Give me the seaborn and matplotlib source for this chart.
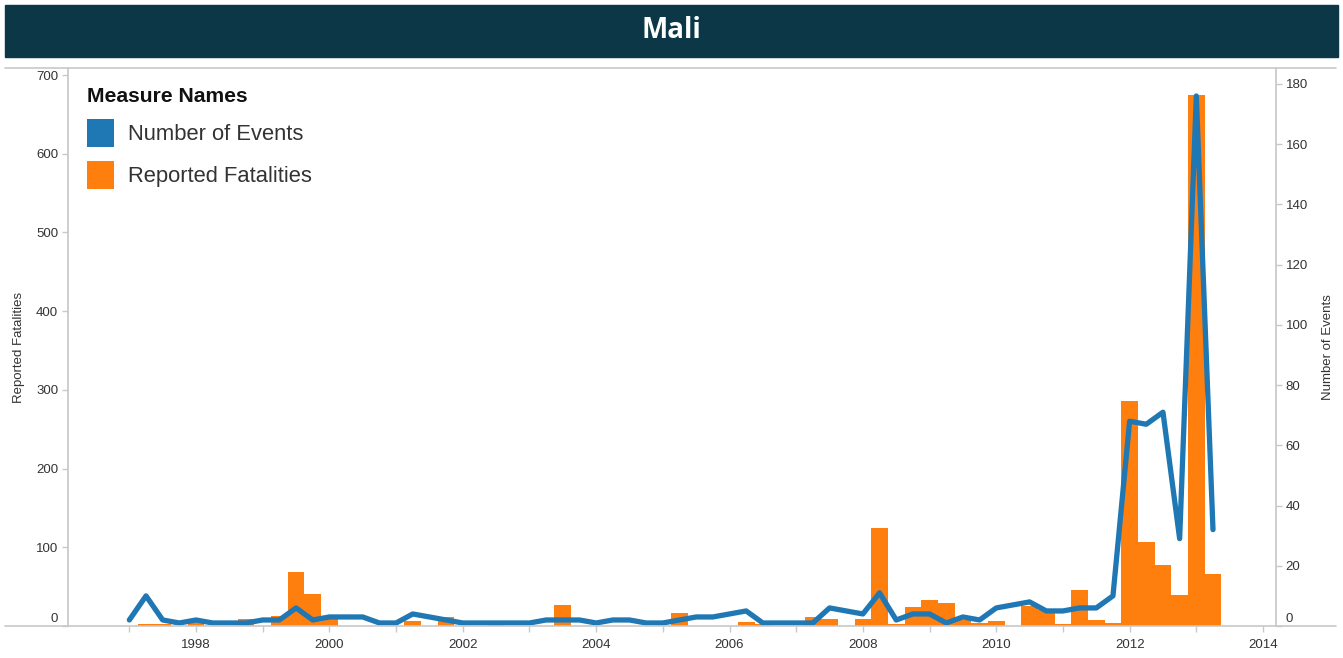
import matplotlib
matplotlib.use("Agg")
import matplotlib.pyplot as plt
import matplotlib.transforms as mtransforms
from matplotlib.lines import Line2D
from matplotlib.patches import Patch, Rectangle
import numpy as np
import pandas as pd
import seaborn as sns

# quarterly data, Q1 1997 .. Q2 2013
start_year = 1997
events = [
    2, 10, 2, 1,
    2, 1, 1, 1,
    2, 2, 6, 2,
    3, 3, 3, 1,
    1, 4, 3, 2,
    1, 1, 1, 1,
    1, 2, 2, 2,
    1, 2, 2, 1,
    1, 2, 3, 3,
    4, 5, 1, 1,
    1, 1, 6, 5,
    4, 11, 2, 4,
    4, 1, 3, 2,
    6, 7, 8, 5,
    5, 6, 6, 10,
    68, 67, 71, 29,
    176, 32,
]
fatalities = [
    0, 2, 2, 0,
    5, 0, 0, 9,
    0, 13, 68, 41,
    12, 0, 0, 0,
    0, 6, 0, 11,
    0, 0, 3, 0,
    0, 0, 27, 0,
    0, 0, 0, 0,
    0, 17, 0, 0,
    0, 5, 2, 0,
    0, 11, 9, 0,
    9, 125, 2, 24,
    33, 29, 7, 4,
    6, 0, 26, 20,
    2, 46, 8, 4,
    286, 107, 78, 39,
    675, 66,
]
year_ticks = [1998, 2000, 2002, 2004, 2006, 2008, 2010, 2012, 2014]
fat_ticks = [0, 100, 200, 300, 400, 500, 600, 700]
event_ticks = [0, 20, 40, 60, 80, 100, 120, 140, 160, 180]

df = pd.DataFrame({
    "quarter": start_year + np.arange(len(events)) * 0.25,
    "events": events,
    "fatalities": fatalities,
})

blue = "#1f77b4"
orange = "#ff7f0e"
grey = "#c8c8c8"
dark = "#333333"

sns.set_theme(style="white")
plt.rcParams["font.family"] = ["Liberation Sans", "DejaVu Sans"]

W, H = 1343, 658
fig = plt.figure(figsize=(W / 100, H / 100), dpi=100)
fig.patch.set_facecolor("white")

# axes box in pixel coords
left_px, right_px, top_px, bottom_px = 68, 1276, 68, 626
ax = fig.add_axes([left_px / W, 1 - bottom_px / H,
                   (right_px - left_px) / W, (bottom_px - top_px) / H])
ax2 = ax.twinx()

q = df["quarter"].values
sns.histplot(data=df, x="quarter", weights="fatalities", binwidth=0.25,
             binrange=(q[0] - 0.125, q[-1] + 0.125), ax=ax,
             color=orange, alpha=1, linewidth=0)
sns.lineplot(data=df, x="quarter", y="events", ax=ax2, color=blue,
             linewidth=3.8, solid_joinstyle="round", solid_capstyle="round")

ax.set_xlim(1996.08, 2014.195)
ax.set_ylim(0, 709)
ax2.set_ylim(0, 185.3)

ax.set_xticks(year_ticks)
ax.set_xticks(np.arange(1997, 2015, 2), minor=True)
ax.set_xticklabels([str(y) for y in year_ticks])
ax.set_yticks(fat_ticks)
ax2.set_yticks(event_ticks)

ax.set_xlabel("")
ax.set_ylabel("Reported Fatalities", fontsize=9.5, color=dark, labelpad=8)
ax2.set_ylabel("Number of Events", fontsize=9.5, color=dark, labelpad=10)

for a in (ax, ax2):
    for s in a.spines.values():
        s.set_visible(False)
ax.spines["left"].set_visible(True)
ax.spines["left"].set_color(grey)
ax2.spines["right"].set_visible(True)
ax2.spines["right"].set_color(grey)

ax.tick_params(axis="y", which="both", left=True, length=4, width=1,
               color=grey, labelsize=9.5, labelcolor=dark, pad=3)
ax2.tick_params(axis="y", which="both", right=True, length=4, width=1,
                color=grey, labelsize=9.5, labelcolor=dark, pad=3)
ax.tick_params(axis="x", which="both", bottom=True, length=4, width=1,
               color=grey, labelsize=9.5, labelcolor=dark, pad=5)

# lift the "0" labels like the original
shift = mtransforms.ScaledTranslation(0, 8 / 100, fig.dpi_scale_trans)
fig.canvas.draw()
for a in (ax, ax2):
    labs = a.get_yticklabels()
    labs[0].set_transform(labs[0].get_transform() + shift)

# frame lines across the whole width
fig.add_artist(Line2D([5 / W, 1336 / W], [1 - top_px / H] * 2, color=grey, lw=1.2))
fig.add_artist(Line2D([5 / W, 1336 / W], [1 - bottom_px / H] * 2, color=grey, lw=1.2))

# title bar
fig.add_artist(Rectangle((5 / W, 1 - 57 / H), (1338 - 5) / W, 52 / H,
                         transform=fig.transFigure, color="#0b3747", zorder=0))
fig.text(671 / W, 1 - 31 / H, "Mali", color="white", fontsize=20,
         fontweight="bold", family=["Open Sans", "DejaVu Sans"],
         ha="center", va="center")

handles = [Patch(facecolor=blue, edgecolor="none", label="Number of Events"),
           Patch(facecolor=orange, edgecolor="none", label="Reported Fatalities")]
leg = ax2.legend(handles=handles, title="Measure Names", loc="upper left",
                 bbox_to_anchor=(87 / W, 1 - 87 / H),
                 bbox_transform=fig.transFigure, frameon=False,
                 fontsize=15.8, handlelength=1.25, handleheight=1.6,
                 handletextpad=0.6, labelspacing=0.6, borderpad=0,
                 borderaxespad=0, alignment="left",
                 title_fontproperties={"weight": "bold", "size": 15.2})
for t in leg.get_texts():
    t.set_color(dark)
leg.get_title().set_color("#111111")

fig.savefig("out.png", dpi=100)
